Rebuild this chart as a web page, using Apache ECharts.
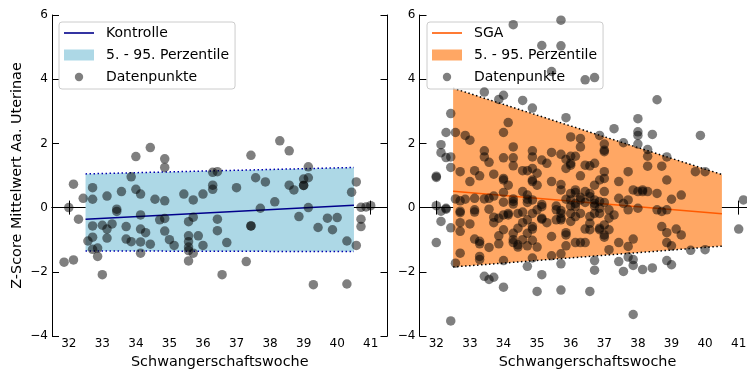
<!DOCTYPE html>
<html><head><meta charset="utf-8">
<script src="https://cdn.jsdelivr.net/npm/echarts@6/dist/echarts.min.js"></script>
<style>html,body{margin:0;padding:0;background:#fff}#c{width:747px;height:372px}</style>
</head><body><div id="c"></div>
<script>
const weekTicks = [32, 33, 34, 35, 36, 37, 38, 39, 40, 41];
const zTicks = [-4, -2, 0, 2, 4, 6];
const bandX = [32.5, 40.5];
const ctrlUpper = [1.05, 1.25];
const ctrlLower = [-1.35, -1.37];
const ctrlMean = [-0.36, 0.07];
const sgaUpper = [3.72, 1.03];
const sgaLower = [-1.85, -1.20];
const sgaMean = [0.51, -0.19];

const ctrlPoints = [
[31.86,-1.70],[32.00,0.00],[32.14,0.73],[32.14,-1.63],[32.29,-0.36],[32.43,0.29],[32.57,-1.04],
[32.71,0.62],[32.71,0.26],[32.71,-0.57],[32.71,-0.92],[32.71,-1.30],[32.86,-1.26],[32.86,-1.52],
[33.00,-2.09],[33.00,-0.55],[33.14,0.36],[33.14,-0.67],[33.14,-0.95],[33.29,-0.51],[33.43,-0.05],
[33.43,-0.12],[33.57,0.50],[33.71,-0.59],[33.71,-0.98],[33.86,0.96],[33.86,-1.06],[34.00,1.59],
[34.00,0.57],[34.14,0.42],[34.14,-0.23],[34.14,-0.67],[34.14,-1.07],[34.14,-1.42],[34.29,-0.78],
[34.43,1.87],[34.43,-1.14],[34.57,0.26],[34.71,-0.38],[34.86,1.52],[34.86,1.25],[34.86,0.21],
[34.86,-0.34],[34.86,-0.73],[35.00,-1.00],[35.14,-1.18],[35.43,0.42],[35.57,-0.44],[35.57,-0.88],
[35.57,-1.06],[35.57,-1.23],[35.57,-1.34],[35.57,-1.66],[35.71,0.24],[35.71,-0.30],[35.71,-1.42],
[35.86,-0.88],[36.00,0.42],[36.00,-1.18],[36.29,1.10],[36.29,0.70],[36.29,0.57],[36.43,1.12],
[36.43,-0.36],[36.43,-0.72],[36.57,-2.09],[36.71,-1.09],[37.00,0.62],[37.29,-1.68],[37.43,1.63],
[37.43,-0.57],[37.43,-0.57],[37.57,0.93],[37.71,-0.02],[37.86,0.80],[38.14,0.18],[38.29,2.08],
[38.57,1.77],[38.57,0.70],[38.71,0.55],[38.86,-0.28],[39.00,0.89],[39.00,0.69],[39.00,0.69],
[39.14,1.27],[39.14,0.93],[39.14,0.00],[39.29,-2.40],[39.43,-0.62],[39.71,-0.33],[39.86,-0.69],
[40.00,-0.31],[40.29,-1.04],[40.29,-2.38],[40.43,0.48],[40.57,0.80],[40.57,-1.18],[40.71,0.01],
[40.71,-0.36],[40.71,-0.59],[40.86,0.02],[41.00,0.06]
];

const sgaPoints = [
[32.00,0.98],[32.00,0.94],[32.00,0.06],[32.00,-1.09],
[32.14,1.96],[32.14,1.71],[32.14,-0.11],[32.14,-0.43],
[32.29,2.34],[32.29,1.56],[32.29,-0.02],[32.29,-0.05],
[32.43,2.93],[32.43,1.58],[32.43,1.25],[32.43,-0.63],[32.43,-3.53],
[32.57,2.34],[32.57,0.27],[32.57,-1.73],
[32.71,1.12],[32.71,0.21],[32.71,-0.11],[32.71,-0.16],[32.71,-0.47],[32.71,-0.74],[32.71,-1.42],
[32.86,2.25],[32.86,0.26],
[33.00,2.10],[33.00,0.81],[33.00,-0.51],
[33.14,1.15],[33.14,0.29],[33.14,-0.07],[33.14,-0.14],[33.14,-0.98],
[33.29,0.99],[33.29,-1.05],[33.29,-1.13],[33.29,-1.52],[33.29,-1.62],
[33.43,3.60],[33.43,1.77],[33.43,1.58],[33.43,0.27],[33.43,-2.14],
[33.57,1.41],[33.57,0.29],[33.57,-0.05],[33.57,-1.24],[33.57,-2.24],
[33.71,1.04],[33.71,0.36],[33.71,-0.30],[33.71,-0.47],[33.71,-2.17],
[33.86,3.37],[33.86,-0.33],[33.86,-0.88],[33.86,-1.13],
[34.00,3.50],[34.00,2.34],[34.00,1.55],[34.00,0.91],[34.00,0.86],[34.00,0.47],[34.00,0.17],[34.00,-0.23],[34.00,-0.69],[34.00,-1.65],[34.00,-2.48],
[34.14,2.65],[34.14,0.70],[34.14,-0.18],[34.14,-0.23],
[34.29,5.70],[34.29,1.89],[34.29,1.55],[34.29,1.30],[34.29,0.27],[34.29,0.19],[34.29,0.11],[34.29,-0.80],[34.29,-1.00],[34.29,-1.09],
[34.43,-0.18],[34.43,-0.64],[34.43,-1.16],[34.43,-1.23],
[34.57,3.34],[34.57,1.15],[34.57,0.50],[34.57,-0.14],[34.57,-0.47],[34.57,-1.00],
[34.71,1.15],[34.71,0.39],[34.71,0.26],[34.71,0.16],[34.71,-0.38],[34.71,-0.80],[34.71,-1.19],[34.71,-1.83],
[34.86,3.10],[34.86,1.77],[34.86,1.58],[34.86,1.22],[34.86,0.86],[34.86,0.81],[34.86,0.24],[34.86,-0.18],[34.86,-0.59],[34.86,-0.67],[34.86,-1.02],[34.86,-1.57],
[35.00,1.07],[35.00,0.70],[35.00,-0.07],[35.00,-1.23],[35.00,-2.61],
[35.14,5.05],[35.14,1.48],[35.14,0.10],[35.14,0.03],[35.14,-0.33],[35.14,-0.36],[35.14,-2.09],
[35.29,1.38],[35.29,-0.47],
[35.43,4.24],[35.43,1.72],[35.43,0.81],[35.43,-0.90],[35.43,-1.50],
[35.57,0.05],[35.57,-0.07],[35.57,-0.38],
[35.71,5.84],[35.71,5.04],[35.71,1.66],[35.71,0.72],[35.71,0.55],[35.71,-0.09],[35.71,-0.18],[35.71,-0.33],[35.71,-0.38],[35.71,-1.44],[35.71,-1.75],[35.71,-2.57],
[35.86,2.80],[35.86,1.50],[35.86,1.22],[35.86,0.26],[35.86,-0.78],[35.86,-0.85],[35.86,-1.19],
[36.00,2.20],[36.00,1.60],[36.00,1.38],[36.00,1.32],[36.00,0.44],[36.00,0.24],[36.00,0.05],[36.00,-0.18],[36.00,-0.43],
[36.14,1.60],[36.14,0.55],[36.14,0.47],[36.14,0.13],[36.14,0.03],[36.14,-0.28],[36.14,-1.09],
[36.29,2.15],[36.29,1.89],[36.29,0.99],[36.29,0.32],[36.29,0.24],[36.29,-0.18],[36.29,-1.09],
[36.43,3.98],[36.43,1.32],[36.43,0.50],[36.43,0.16],[36.43,-0.67],[36.43,-1.09],
[36.57,1.30],[36.57,0.44],[36.57,0.34],[36.57,-0.28],[36.57,-0.49],[36.57,-0.69],[36.57,-2.61],
[36.71,4.05],[36.71,1.38],[36.71,0.70],[36.71,0.24],[36.71,0.13],[36.71,0.05],[36.71,-0.18],[36.71,-1.65],[36.71,-1.95],
[36.86,2.25],[36.86,0.86],[36.86,0.19],[36.86,-0.02],[36.86,-0.18],[36.86,-0.64],[36.86,-0.69],
[37.00,1.98],[37.00,1.79],[37.00,1.74],[37.00,1.12],[37.00,0.91],[37.00,0.50],[37.00,0.16],[37.00,-0.54],[37.00,-0.85],[37.00,-0.92],
[37.14,-0.07],[37.14,-0.33],[37.14,-0.69],[37.14,-1.31],
[37.29,2.46],[37.29,-0.23],
[37.43,0.81],[37.43,0.29],[37.43,-1.09],[37.43,-1.68],
[37.57,2.02],[37.57,0.13],[37.57,-1.99],
[37.71,1.12],[37.71,0.24],[37.71,-0.07],[37.71,-1.21],[37.71,-1.54],
[37.86,0.55],[37.86,-0.98],[37.86,-1.62],[37.86,-1.80],[37.86,-3.33],
[38.00,2.77],[38.00,2.36],[38.00,2.25],[38.00,1.98],[38.00,0.50],[38.00,-0.02],
[38.14,0.55],[38.14,0.50],[38.14,-1.93],
[38.29,1.81],[38.29,1.60],[38.29,1.29],[38.29,0.50],
[38.43,2.28],[38.43,-1.88],
[38.57,3.36],[38.57,0.44],[38.57,-0.07],
[38.71,1.29],[38.71,-0.12],[38.71,-0.59],
[38.86,1.58],[38.86,0.86],[38.86,-0.07],[38.86,-0.78],[38.86,-1.09],[38.86,-1.65],
[39.00,0.26],[39.00,-1.19],[39.00,-1.78],
[39.14,-0.67],
[39.29,0.39],[39.29,-0.85],
[39.57,-1.33],[39.71,1.12],[39.86,2.25],
[40.00,1.12],[40.00,-1.31],
[41.00,-0.67],[41.14,0.24]
];

const FONT = 'DejaVu Sans';
const INK = '#000';
const minusFmt = v => (v < 0 ? '\u2212' + Math.abs(v) : String(v));

function xAxesFor(g) {
  const base = {type:'value', gridIndex:g, min:31.5, max:41.5,
    axisLine:{lineStyle:{color:INK, width:1}}, splitLine:{show:false}};
  return [
    Object.assign({}, base, {position:'bottom',
      name:'Schwangerschaftswoche', nameLocation:'middle', nameGap:17,
      nameTextStyle:{fontFamily:FONT, fontSize:14.4, color:INK},
      axisTick:{inside:true, length:7, customValues:weekTicks, lineStyle:{color:INK}},
      axisLabel:{customValues:weekTicks, margin:2, fontFamily:FONT, fontSize:12, color:INK}}),
    Object.assign({}, base, {position:'top',
      axisTick:{inside:true, length:7, customValues:weekTicks, lineStyle:{color:INK}},
      axisLabel:{show:false}})
  ];
}
function yAxesFor(g, withName) {
  const base = {type:'value', gridIndex:g, min:-4, max:6, interval:2,
    axisLine:{show:true, lineStyle:{color:INK, width:1}}, splitLine:{show:false}};
  const left = Object.assign({}, base, {position:'left',
    axisTick:{inside:true, length:7, lineStyle:{color:INK}},
    axisLabel:{margin:4, fontFamily:FONT, fontSize:12, color:INK, formatter:minusFmt}});
  if (withName) Object.assign(left, {name:'Z-Score Mittelwert Aa. Uterinae', nameLocation:'middle',
    nameGap:28, nameRotate:90, nameTextStyle:{fontFamily:FONT, fontSize:14.4, color:INK}});
  return [left, Object.assign({}, base, {position:'right',
    axisTick:{inside:true, length:7, lineStyle:{color:INK}}, axisLabel:{show:false}})];
}

function bandSeries(g, lower, upper, color) {
  return {type:'custom', name:'5. - 95. Perzentile', xAxisIndex:2*g, yAxisIndex:2*g, z:1,
    silent:true, clip:true,
    data: bandX.map((x, i) => [x, lower[i], upper[i]]),
    encode:{x:0, y:[1,2]},
    renderItem: function (params, api) {
      if (params.dataIndex !== 0) return null;
      const pts = [];
      for (let i = 0; i < bandX.length; i++) pts.push(api.coord([bandX[i], upper[i]]));
      for (let i = bandX.length - 1; i >= 0; i--) pts.push(api.coord([bandX[i], lower[i]]));
      return {type:'polygon', shape:{points:pts}, style:{fill:color}};
    }};
}
function edgeSeries(g, vals, color) {
  return {type:'line', xAxisIndex:2*g, yAxisIndex:2*g, z:3, silent:true, symbol:'none',
    data: bandX.map((x, i) => [x, vals[i]]),
    lineStyle:{color:color, width:1.5, type:[1.5, 2.5]}};
}
function meanSeries(g, name, vals, color) {
  return {type:'line', name:name, xAxisIndex:2*g, yAxisIndex:2*g, z:3, silent:true, symbol:'none',
    showSymbol:false, data: bandX.map((x, i) => [x, vals[i]]), color:color,
    lineStyle:{color:color, width:1.5}};
}
function pointSeries(g, pts) {
  return {type:'scatter', name:'Datenpunkte', xAxisIndex:2*g, yAxisIndex:2*g, z:4, silent:true,
    symbolSize:9.5, data:pts, itemStyle:{color:'#000', opacity:0.5}};
}
const lineIcon = 'path://M0,0h30v1.6h-30z';
const dotIcon = 'path://M0,0M11,11M9.7,5.5A4.2,4.2,0,1,1,1.3,5.5A4.2,4.2,0,1,1,9.7,5.5Z';
function legendFor(left, lineName, lineColor, bandColor) {
  return {left:left, top:22, orient:'vertical', itemWidth:30, itemHeight:11, itemGap:8,
    padding:[4,6,5,5], backgroundColor:'rgba(255,255,255,0.8)', borderColor:'#cccccc',
    borderWidth:1, borderRadius:3, selectedMode:false,
    textStyle:{fontFamily:FONT, fontSize:14, color:INK, padding:[0,0,0,7]},
    data:[{name:lineName, icon:lineIcon, itemStyle:{color:lineColor, opacity:1}},
      {name:'5. - 95. Perzentile', icon:'rect', itemStyle:{color:bandColor, opacity:1}},
      {name:'Datenpunkte', icon:dotIcon, itemStyle:{color:'#000', opacity:0.5}}]};
}

const BLUE = '#add8e6', NAVY = '#00008b', ORANGE = '#ffa764', ORED = '#ff5a00';
const chart = echarts.init(document.getElementById('c'));
chart.setOption({
  animation:false,
  backgroundColor:'#fff',
  grid:[{left:52, top:15, width:335.5, height:321, outerBoundsMode:'none', containLabel:false},
        {left:419.5, top:15, width:336, height:321, outerBoundsMode:'none', containLabel:false}],
  xAxis: xAxesFor(0).concat(xAxesFor(1)),
  yAxis: yAxesFor(0, true).concat(yAxesFor(1, false)),
  legend:[legendFor(59, 'Kontrolle', NAVY, BLUE), legendFor(427, 'SGA', ORED, ORANGE)],
  series:[
    bandSeries(0, ctrlLower, ctrlUpper, BLUE),
    edgeSeries(0, ctrlUpper, '#0000b0'), edgeSeries(0, ctrlLower, '#0000b0'),
    meanSeries(0, 'Kontrolle', ctrlMean, NAVY),
    pointSeries(0, ctrlPoints),
    bandSeries(1, sgaLower, sgaUpper, ORANGE),
    edgeSeries(1, sgaUpper, '#000'), edgeSeries(1, sgaLower, '#000'),
    meanSeries(1, 'SGA', sgaMean, ORED),
    pointSeries(1, sgaPoints)
  ]
});
</script></body></html>
